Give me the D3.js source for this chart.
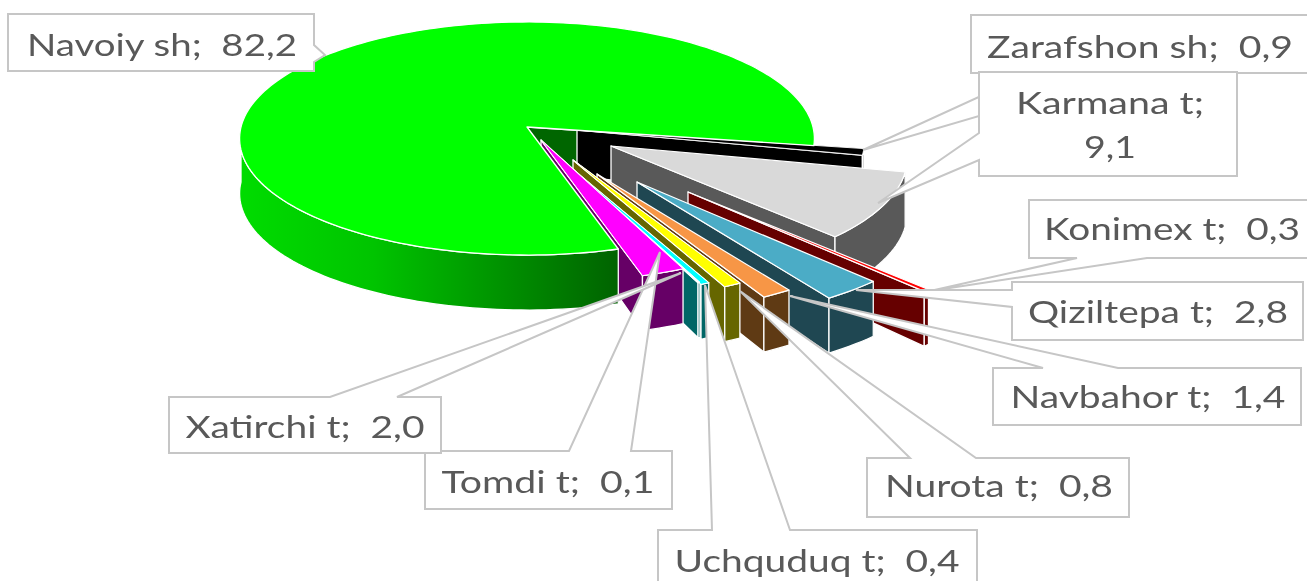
<!DOCTYPE html>
<html><head><meta charset="utf-8">
<script src="https://cdn.jsdelivr.net/npm/d3@7"></script>
<style>html,body{margin:0;padding:0;background:#fff;overflow:hidden}svg{display:block;filter:blur(0.6px)}text{white-space:pre}</style>
</head><body><svg id="c" width="1307" height="581"></svg>
<script>
// Data
const categories = ["Navoiy sh","Zarafshon sh","Karmana t","Konimex t","Qiziltepa t","Navbahor t","Nurota t","Uchquduq t","Tomdi t","Xatirchi t"];
const values = [82.2,0.9,9.1,0.3,2.8,1.4,0.8,0.4,0.1,2.0];
const valueLabels = ["82,2","0,9","9,1","0,3","2,8","1,4","0,8","0,4","0,1","2,0"];
// Styles
const topColors  = ["#00ff00","#000000","#d9d9d9","#ff0000","#4bacc6","#f79646","#ffff00","#00ffff","#ffffff","#ff00ff"];
const wallColors = ["#006600","#000000","#595959","#660000","#1f4752","#5f3a14","#666600","#006666","#006666","#660066"];
// Layout of the exploded slices
const apexes = [[527,127],[577,130],[611,146],[688,192],[637,182],[597,174],[573,160],[557,156],[556,154],[541,140]];
const radii  = [1,1,1.03,1.1,1.1,1.1,1.1,1.1,1.1,1.1];
const boxes = [
 {b:[8,14,314,71],   side:"r", w:[45,62],    tip:[325,55],  tx:162,  ty:[56],  len:[270]},
 {b:[971,15,1310,73],side:"b", w:[1126,1031],tip:[863,150], tx:1140, ty:[58],  len:[306]},
 {b:[979,72,1237,176],side:"l",w:[160,133],  tip:[878,203], tx:1110, ty:[114,158], len:[188,52]},
 {b:[1029,200,1312,258],side:"b",w:[1147,1077],tip:[930,291],tx:1172,ty:[240], len:[256]},
 {b:[1012,282,1303,340],side:"l",w:[307,290],tip:[856,290], tx:1158, ty:[323], len:[260]},
 {b:[993,368,1301,425],side:"t",w:[1043,1118],tip:[790,296],tx:1148, ty:[408], len:[275]},
 {b:[867,458,1129,517],side:"t",w:[910,976], tip:[740,291], tx:999,  ty:[497], len:[228]},
 {b:[658,530,977,595],side:"t",w:[712,790],  tip:[705,285], tx:817,  ty:[572], len:[285]},
 {b:[425,451,672,509],side:"t",w:[569,631],  tip:[660,252], tx:548,  ty:[493], len:[213]},
 {b:[169,397,441,453],side:"t",w:[330,397],  tip:[681,273], tx:305,  ty:[438], len:[239]}
];
const deg = Math.PI/180;
const startDeg = 163.2;
const svg = d3.select("#c");
const defs = svg.append("defs");
const grad = defs.append("linearGradient").attr("id","gw").attr("gradientUnits","userSpaceOnUse")
  .attr("x1",240).attr("x2",620).attr("y1",0).attr("y2",0);
[[0,"#00dc00"],[0.35,"#00c400"],[0.7,"#009000"],[1,"#006200"]].forEach(s=>grad.append("stop").attr("offset",s[0]).attr("stop-color",s[1]));

const pie = d3.pie().sort(null).startAngle(startDeg*deg).endAngle((startDeg+360)*deg);
const arcs = pie(values);
// perspective projection of the pie plane
const persp = 0.0987;
const sx = d3.scaleLinear().domain([0,1]).range([0,286]);
const sy = d3.scaleLinear().domain([0,1]).range([0,115.4]);
function rim(i,t){
  const r=radii[i], X=r*Math.sin(t), Y=-r*Math.cos(t), w=1/(1-persp*Y);
  return [apexes[i][0]+sx(X*w), apexes[i][1]+sy(Y*w)];
}
const down = (p,d)=>[p[0],p[1]+d];
const depApex=46, depRim=55;
const line = d3.line();
const closed = pts=>line(pts)+"Z";
function rimPts(i,a,b){
  const n=Math.max(2,Math.ceil(Math.abs(b-a)/(1.5*deg)));
  return d3.range(n+1).map(k=>rim(i,a+(b-a)*k/n));
}
function poly(g,pts,fill,sw){
  g.append("path").attr("d",closed(pts)).attr("fill",fill).attr("stroke","#fff")
   .attr("stroke-width",sw||1.3).attr("stroke-linejoin","round");
}
function topPts(i){return [apexes[i]].concat(rimPts(i,arcs[i].startAngle,arcs[i].endAngle));}
function endWall(g,i){
  const e=rim(i,arcs[i].endAngle);
  poly(g,[apexes[i],e,down(e,depRim),down(apexes[i],depApex)],wallColors[i]);
}
function outerWall(g,i,a,b,fill){
  const t=rimPts(i,a,b);
  poly(g,t.concat(t.slice().reverse().map(p=>down(p,depRim))),fill||wallColors[i]);
}
const chart = svg.append("g");
// back wall of the big slice
endWall(chart,0);
// exploded slices, back to front
for(let i=1;i<values.length;i++){
  endWall(chart,i);
  outerWall(chart,i,arcs[i].startAngle,arcs[i].endAngle);
  poly(chart,topPts(i),topColors[i],i===1?0.9:1.2);
}
// big slice on top of what runs beneath it
outerWall(chart,0,arcs[0].startAngle,270*deg,"url(#gw)");
poly(chart,topPts(0),topColors[0],1.3);
// thin front slices on top of the big one
for(let i=6;i<values.length;i++) poly(chart,topPts(i),topColors[i],1);

// callouts
function callout(b){
  const [x0,y0,x1,y1]=b.b,[a,c]=b.w,t=b.tip;let pts;
  if(b.side==="t") pts=[[x0,y0],[a,y0],t,[c,y0],[x1,y0],[x1,y1],[x0,y1]];
  if(b.side==="b") pts=[[x0,y0],[x1,y0],[x1,y1],[a,y1],t,[c,y1],[x0,y1]];
  if(b.side==="l") pts=[[x0,y0],[x1,y0],[x1,y1],[x0,y1],[x0,a],t,[x0,c]];
  if(b.side==="r") pts=[[x0,y0],[x1,y0],[x1,b.w[0]],t,[x1,b.w[1]],[x1,y1],[x0,y1]];
  return closed(pts);
}
const labels = svg.append("g");
boxes.forEach((b,i)=>{
  labels.append("path").attr("d",callout(b)).attr("fill","#fff").attr("stroke","#c6c6c6").attr("stroke-width",2);
  const lines = i===2 ? [categories[i]+";",valueLabels[i]] : [categories[i]+";  "+valueLabels[i]];
  lines.forEach((s,k)=>labels.append("text").attr("x",b.tx).attr("y",b.ty[k]).attr("text-anchor","middle")
    .attr("font-family","Lato, sans-serif").attr("font-size",31).attr("fill","#595959")
    .attr("textLength",b.len[k]).attr("lengthAdjust","spacingAndGlyphs").text(s));
});
</script></body></html>
